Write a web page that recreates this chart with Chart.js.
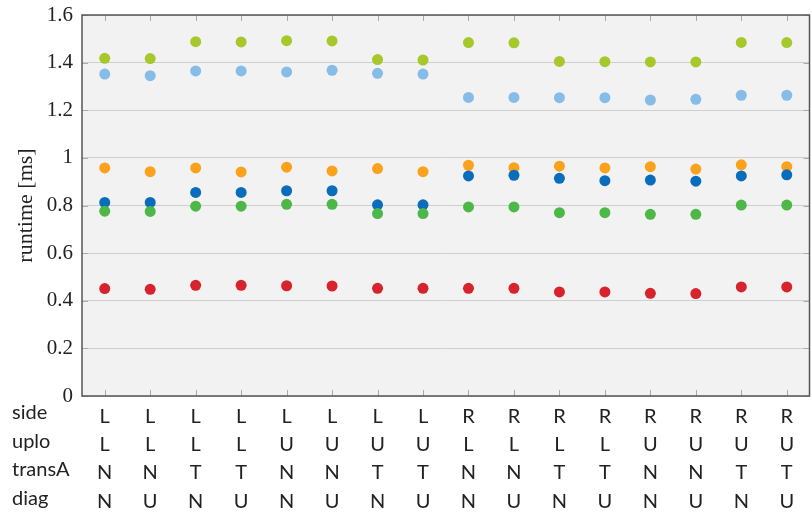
<!DOCTYPE html>
<html lang="en">
<head>
  <meta charset="UTF-8">
  <title>Runtime per variant</title>
  <script src="https://cdn.jsdelivr.net/npm/chart.js"></script>
  <style>
    * { box-sizing: border-box; margin: 0; padding: 0; }
    html, body { background: #fff; overflow: hidden; }
    .wrap { width: 815px; height: 528px; position: relative; }
  </style>
</head>
<body>
  <div class="wrap"><canvas id="chart"></canvas></div>
  <script>
    // parameter rows under the x axis
    const rowNames = ['side', 'uplo', 'transA', 'diag'];
    const side   = ['L','L','L','L','L','L','L','L','R','R','R','R','R','R','R','R'];
    const uplo   = ['L','L','L','L','U','U','U','U','L','L','L','L','U','U','U','U'];
    const transA = ['N','N','T','T','N','N','T','T','N','N','T','T','N','N','T','T'];
    const diag   = ['N','U','N','U','N','U','N','U','N','U','N','U','N','U','N','U'];

    const yTicks = [0, 0.2, 0.4, 0.6, 0.8, 1, 1.2, 1.4, 1.6];

    // runtimes in ms, one array per series
    const limeSeries   = [1.418,1.417,1.488,1.487,1.492,1.491,1.413,1.411,1.484,1.483,1.405,1.404,1.403,1.403,1.485,1.484];
    const skySeries    = [1.352,1.345,1.365,1.365,1.361,1.368,1.355,1.352,1.254,1.254,1.253,1.253,1.243,1.246,1.263,1.263];
    const orangeSeries = [0.958,0.942,0.958,0.941,0.961,0.945,0.955,0.942,0.969,0.959,0.965,0.958,0.963,0.953,0.971,0.963];
    const blueSeries   = [0.813,0.813,0.855,0.855,0.862,0.862,0.803,0.803,0.924,0.927,0.914,0.904,0.907,0.902,0.924,0.929];
    const greenSeries  = [0.776,0.775,0.797,0.797,0.805,0.805,0.766,0.766,0.794,0.794,0.770,0.770,0.763,0.763,0.802,0.802];
    const redSeries    = [0.451,0.448,0.465,0.465,0.463,0.462,0.452,0.452,0.452,0.452,0.437,0.437,0.431,0.430,0.458,0.458];

    const labels = side.map((s, i) => [s, uplo[i], transA[i], diag[i]]);

    const sansFamily = "'Lato', 'Open Sans', sans-serif";
    const tickFont = { family: sansFamily, size: 20, lineHeight: 1.42 };

    function dots(data, color) {
      return {
        data: data, showLine: false,
        pointRadius: 5.5, pointHoverRadius: 5.5,
        pointBackgroundColor: color, pointBorderWidth: 0, borderColor: color
      };
    }

    // plot background, frame, inward ticks and row names
    const frame = {
      id: 'frame',
      beforeDraw(chart) {
        const { ctx, chartArea: a } = chart;
        ctx.save();
        ctx.fillStyle = '#f2f2f2';
        ctx.fillRect(a.left, a.top, a.right - a.left, a.bottom - a.top);
        ctx.restore();
      },
      afterDraw(chart) {
        const { ctx, chartArea: a, scales } = chart;
        ctx.save();
        ctx.strokeStyle = '#aaaaaa';
        ctx.lineWidth = 1;
        ctx.beginPath();
        labels.forEach((l, i) => {
          const x = Math.round(scales.x.getPixelForValue(i)) + 0.5;
          ctx.moveTo(x, a.bottom); ctx.lineTo(x, a.bottom - 6);
          ctx.moveTo(x, a.top); ctx.lineTo(x, a.top + 6);
        });
        yTicks.forEach(v => {
          const y = Math.round(scales.y.getPixelForValue(v)) + 0.5;
          ctx.moveTo(a.left, y); ctx.lineTo(a.left + 6, y);
          ctx.moveTo(a.right, y); ctx.lineTo(a.right - 6, y);
        });
        ctx.stroke();

        ctx.strokeStyle = '#555555';
        ctx.lineWidth = 1.5;
        ctx.strokeRect(a.left, a.top, a.right - a.left, a.bottom - a.top);

        ctx.fillStyle = '#222';
        ctx.font = '20px ' + sansFamily;
        ctx.textBaseline = 'middle';
        ctx.textAlign = 'left';
        const rowH = tickFont.size * tickFont.lineHeight;
        rowNames.forEach((n, i) => {
          ctx.fillText(n, 12, a.bottom + 17 + i * rowH);
        });
        ctx.restore();
      }
    };

    new Chart(document.getElementById('chart'), {
      type: 'line',
      data: {
        labels: labels,
        datasets: [
          dots(redSeries, '#d7232b'),
          dots(greenSeries, '#4db848'),
          dots(blueSeries, '#0a6dbc'),
          dots(orangeSeries, '#fba21c'),
          dots(skySeries, '#85bce8'),
          dots(limeSeries, '#a6c82b')
        ]
      },
      options: {
        responsive: true,
        maintainAspectRatio: false,
        animation: false,
        devicePixelRatio: 1,
        layout: { padding: { top: 15, right: 2, left: 4, bottom: 0 } },
        plugins: { legend: { display: false }, tooltip: { enabled: false } },
        scales: {
          x: {
            offset: true,
            grid: { display: false },
            border: { display: false },
            ticks: { color: '#222', font: tickFont, padding: -2, maxRotation: 0, autoSkip: false },
            afterFit(scale) {
              scale.height = 132;
              scale.paddingLeft = 0;
              scale.paddingRight = 0;
            }
          },
          y: {
            min: 0, max: 1.6,
            afterBuildTicks(scale) { scale.ticks = yTicks.map(v => ({ value: v })); },
            grid: { color: '#cfcfcf', lineWidth: 1, drawTicks: false },
            border: { display: false },
            ticks: {
              color: '#222', padding: 9,
              font: { family: "'Liberation Serif', serif", size: 21 },
              callback: v => String(v)
            },
            title: {
              display: true, text: 'runtime [ms]', color: '#222',
              font: { family: "'Liberation Serif', serif", size: 22 },
              padding: { top: 9, bottom: 0 }
            },
            afterFit(scale) {
              scale.width = 78;
              scale.paddingTop = 0;
              scale.paddingBottom = 0;
            }
          }
        }
      },
      plugins: [frame]
    });
  </script>
</body>
</html>
